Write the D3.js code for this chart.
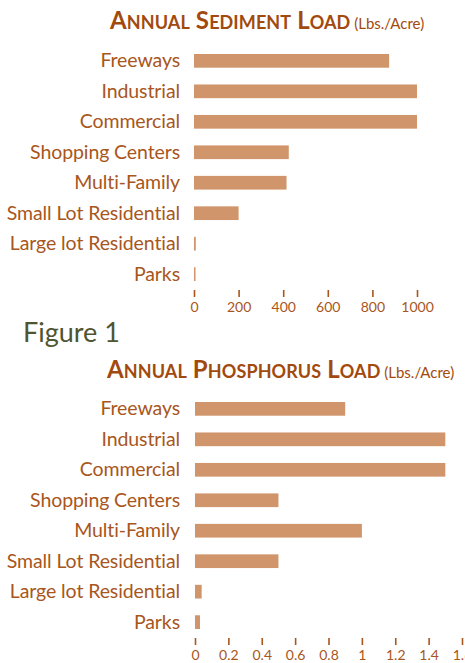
<!DOCTYPE html><meta charset="utf-8">
<title>Annual loads by land use</title>
<style>
  body{margin:0;background:#fff}
  svg{display:block}
  text{font-family:Lato,"Open Sans",sans-serif}
</style>
<script src="https://d3js.org/d3.v7.min.js"></script>
<body><script>
const categories = ["Freeways","Industrial","Commercial","Shopping Centers","Multi-Family",
                    "Small Lot Residential","Large lot Residential","Parks"];
const sediment   = [875, 1000, 1000, 425, 415, 200, 8, 3];
const phosphorus = [0.9, 1.5, 1.5, 0.5, 1.0, 0.5, 0.04, 0.03];
const sedimentTicks   = [0, 200, 400, 600, 800, 1000];
const phosphorusTicks = [0, 0.2, 0.4, 0.6, 0.8, 1, 1.2, 1.4, 1.6];

const W = 465, H = 663;
const barCol = "#d0956b", txtCol = "#a8561c", titleCol = "#a24a0e";

const svg = d3.select("body").append("svg").attr("width", W).attr("height", H);

function chart({title, values, ticks, domain, xr, top, titleX, titleY}){
  const x = d3.scaleLinear().domain(domain).range(xr);
  const y = d3.scaleBand().domain(categories)
    .range([top, top + 227]).paddingInner(0.55).paddingOuter(0).align(0);

  // title in hand-made small caps
  const t = svg.append("text").attr("x", titleX).attr("y", titleY)
    .attr("fill", titleCol).attr("font-weight", 700).attr("letter-spacing", 0.1);
  title.split(" ").forEach((w, i) => {
    t.append("tspan").attr("font-size", 24).text((i ? " " : "") + w[0]);
    t.append("tspan").attr("font-size", 18).text(w.slice(1).toUpperCase());
  });
  t.append("tspan").text(" (Lbs./Acre)").attr("font-size", 15)
    .attr("font-weight", 400).attr("letter-spacing", 0);

  const g = svg.append("g");
  g.selectAll("rect").data(values).join("rect")
    .attr("x", x(0)).attr("y", (d,i) => y(categories[i]))
    .attr("width", d => Math.max(1.5, x(d) - x(0)))
    .attr("height", y.bandwidth()).attr("fill", barCol);

  g.selectAll("text.cat").data(categories).join("text").attr("class","cat")
    .attr("x", 180).attr("y", d => y(d) + y.bandwidth()/2 + 6.5)
    .attr("text-anchor","end").attr("font-size", 19.5).attr("fill", txtCol)
    .attr("letter-spacing", -0.1)
    .text(d => d);

  const ax = svg.append("g").attr("transform", `translate(0,${top + 236})`)
    .call(d3.axisBottom(x).tickValues(ticks).tickSize(7).tickPadding(5)
      .tickFormat(d3.format("~g")));
  ax.select(".domain").remove();
  ax.selectAll(".tick line").attr("stroke", txtCol).attr("stroke-width", 1.6);
  ax.selectAll(".tick text").attr("fill", txtCol).attr("font-size", 14)
    .attr("font-family", "Lato,sans-serif");
}

chart({title:"Annual Sediment Load", values:sediment, ticks:sedimentTicks,
       domain:[0,1000], xr:[194,417], top:54, titleX:110, titleY:29});
chart({title:"Annual Phosphorus Load", values:phosphorus, ticks:phosphorusTicks,
       domain:[0,1.6], xr:[195,462], top:402, titleX:107, titleY:378});

svg.append("text").attr("x", 23).attr("y", 342)
  .attr("font-size", 27).attr("fill", "#4f5530").text("Figure 1");
</script>
